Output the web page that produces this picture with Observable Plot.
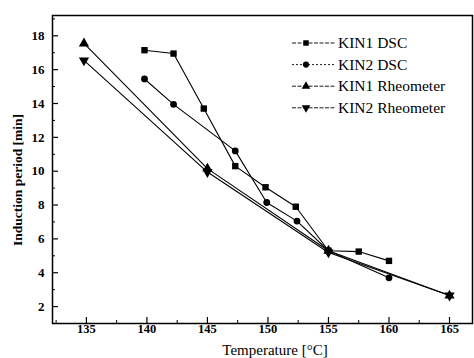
<!DOCTYPE html>
<html><head><meta charset="utf-8">
<script src="https://cdn.jsdelivr.net/npm/d3@7"></script>
<script src="https://cdn.jsdelivr.net/npm/@observablehq/plot@0.6"></script>
<style>
body{margin:0;background:#fff;}
#c{position:relative;width:474px;height:358px;}
#c svg, #c svg text{font-family:"Liberation Serif",serif !important;}
</style></head><body><div id="c"></div>
<script>
const seriesNames = ["KIN1 DSC","KIN2 DSC","KIN1 Rheometer","KIN2 Rheometer"];
const kin1DscT = [139.8,142.2,144.7,147.3,149.8,152.3,155,157.5,160];
const kin1DscV = [17.15,16.95,13.7,10.3,9.05,7.9,5.3,5.25,4.7];
const kin2DscT = [139.8,142.2,147.3,149.9,152.4,155,160];
const kin2DscV = [15.45,13.95,11.2,8.15,7.05,5.3,3.7];
const kin1RheoT = [134.8,145,155,165];
const kin1RheoV = [17.55,10.15,5.3,2.65];
const kin2RheoT = [134.8,145,155,165];
const kin2RheoV = [16.55,9.95,5.2,2.65];
const xTicks = [135,140,145,150,155,160,165];
const xMinor = [132.5,137.5,142.5,147.5,152.5,157.5,162.5];
const yTicks = [2,4,6,8,10,12,14,16,18];
const yMinor = [1,3,5,7,9,11,13,15,17,19];

const mk = (T,V,s) => T.map((t,i)=>({t, v:V[i], s}));
const data = [
  ...mk(kin1DscT,kin1DscV,seriesNames[0]),
  ...mk(kin2DscT,kin2DscV,seriesNames[1]),
  ...mk(kin1RheoT,kin1RheoV,seriesNames[2]),
  ...mk(kin2RheoT,kin2RheoV,seriesNames[3])
];

const plot = Plot.plot({
  width:474, height:358,
  marginLeft:52, marginRight:2, marginTop:15, marginBottom:35,
  x:{domain:[132.2,166.9]},
  y:{domain:[1,19.2]},
  style:{fontFamily:'"Liberation Serif", serif', background:"#fff", color:"#000"},
  marks:[
    Plot.frame({stroke:"#000", strokeWidth:1.5}),
    Plot.line(data,{x:"t",y:"v",z:"s",stroke:"#000",strokeWidth:1.1}),
    Plot.dot(data.filter(d=>d.s===seriesNames[0]),{x:"t",y:"v",symbol:"square",r:3.6,fill:"#000"}),
    Plot.dot(data.filter(d=>d.s===seriesNames[1]),{x:"t",y:"v",symbol:"circle",r:3.4,fill:"#000"}),
    Plot.dot(data.filter(d=>d.s===seriesNames[2]),{x:"t",y:"v",symbol:"triangle",r:3.8,fill:"#000"}),
    Plot.dot(data.filter(d=>d.s===seriesNames[3]),{x:"t",y:"v",symbol:"triangle",rotate:180,r:3.8,fill:"#000"}),
    Plot.axisX({ticks:xTicks, tickSize:-6, label:null, tickFormat:()=>"", strokeWidth:1.2}),
    Plot.axisX({ticks:xMinor, tickSize:-3, label:null, tickFormat:()=>""}),
    Plot.axisX({ticks:xTicks, tickSize:0, tickPadding:1, label:null, fontSize:12.5, fontWeight:"bold"}),
    Plot.axisY({ticks:yTicks, tickSize:-6, label:null, tickFormat:()=>"", strokeWidth:1.2}),
    Plot.axisY({ticks:yMinor, tickSize:-3, label:null, tickFormat:()=>""}),
    Plot.axisY({ticks:yTicks, tickSize:0, tickPadding:8, label:null, fontSize:13, fontWeight:"bold"})
  ]
});
document.getElementById("c").appendChild(plot);

const svg = d3.select(plot);
svg.append("text").attr("x",275).attr("y",355).attr("text-anchor","middle")
  .attr("font-size",15).text("Temperature [°C]");
svg.append("text").attr("transform","translate(22,180) rotate(-90)").attr("text-anchor","middle")
  .attr("font-size",13.5).attr("font-weight","bold").text("Induction period [min]");

const leg = svg.append("g").attr("transform","translate(292,43)");
const dashes = ["4,1.5","2,2","4,1.5","4,1.5"];
const syms = [d3.symbolSquare,d3.symbolCircle,d3.symbolTriangle,d3.symbolTriangle];
seriesNames.forEach((n,i)=>{
  const g = leg.append("g").attr("transform",`translate(0,${i*21.6})`);
  g.append("line").attr("x1",0).attr("x2",43).attr("y1",0).attr("y2",0)
    .attr("stroke","#000").attr("stroke-width",0.9).attr("stroke-dasharray",dashes[i]);
  g.append("path").attr("d",d3.symbol(syms[i], i<2?30:32)())
    .attr("transform",`translate(14,0) rotate(${i===3?180:0})`).attr("fill","#000");
  g.append("text").attr("x",46).attr("y",5).attr("font-size",15.5)
    .attr("text-anchor","start").text(n);
});
svg.selectAll("text").attr("font-family","Liberation Serif").style("font-family","'Liberation Serif', serif");
</script></body></html>
